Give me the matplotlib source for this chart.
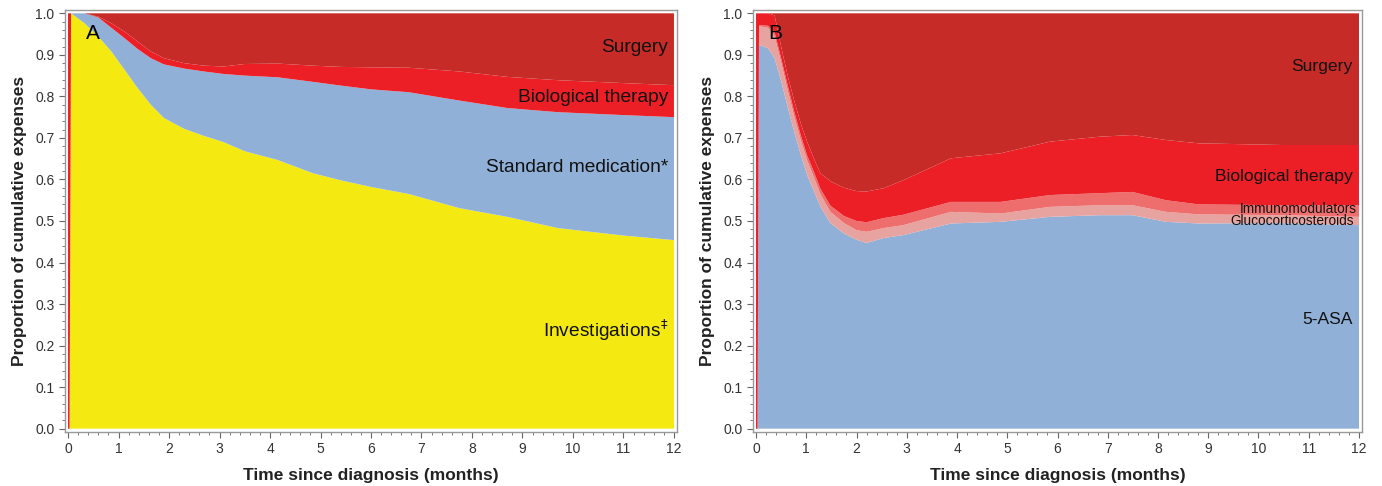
import matplotlib
matplotlib.use("Agg")
import matplotlib.pyplot as plt
import numpy as np
from matplotlib.ticker import AutoMinorLocator

plt.rcParams['font.family'] = ['Liberation Sans', 'DejaVu Sans']

# ---------------- Panel A: cumulative upper boundary of each layer ----------------
t_a = [0.0, 0.03, 0.06, 0.33, 0.6, 0.86, 1.12, 1.38, 1.64, 1.9, 2.3, 2.69, 3.08, 3.5, 4.15, 4.85, 5.4, 6.0, 6.75, 7.75, 8.7, 9.7, 11.0, 12.0]
top_investigations = [0.0, 0.0, 1.0, 0.976, 0.944, 0.908, 0.864, 0.82, 0.78, 0.748, 0.722, 0.705, 0.69, 0.668, 0.647, 0.615, 0.598, 0.582, 0.565, 0.531, 0.51, 0.483, 0.465, 0.454]
top_standard_med   = [0.0, 0.0, 1.0, 1.0, 0.99, 0.965, 0.94, 0.914, 0.892, 0.877, 0.867, 0.86, 0.854, 0.85, 0.846, 0.835, 0.826, 0.817, 0.81, 0.79, 0.772, 0.762, 0.755, 0.75]
top_biological_a   = [1.0, 1.0, 1.0, 1.0, 0.992, 0.976, 0.956, 0.932, 0.908, 0.892, 0.88, 0.874, 0.872, 0.878, 0.879, 0.874, 0.871, 0.87, 0.869, 0.86, 0.847, 0.839, 0.832, 0.827]
top_surgery_a      = [1.0] * len(t_a)

# ---------------- Panel B ----------------
t_b = [0.0, 0.03, 0.06, 0.24, 0.37, 0.5, 0.63, 0.76, 0.89, 1.02, 1.16, 1.28, 1.48, 1.75, 2.0, 2.2, 2.54, 2.93, 3.88, 4.87, 5.85, 6.84, 7.49, 8.16, 8.81, 10.45, 12.0]
top_5asa        = [0.0, 0.0, 0.924, 0.916, 0.892, 0.837, 0.775, 0.715, 0.66, 0.61, 0.57, 0.535, 0.495, 0.47, 0.455, 0.447, 0.459, 0.466, 0.494, 0.498, 0.51, 0.514, 0.514, 0.498, 0.494, 0.495, 0.49]
top_glucocort   = [0.0, 0.0, 0.969, 0.965, 0.945, 0.882, 0.815, 0.752, 0.695, 0.645, 0.603, 0.565, 0.522, 0.495, 0.478, 0.474, 0.483, 0.49, 0.522, 0.518, 0.534, 0.538, 0.538, 0.522, 0.516, 0.514, 0.51]
top_immunomod   = [0.0, 0.0, 0.972, 0.970, 0.955, 0.892, 0.827, 0.764, 0.707, 0.657, 0.616, 0.578, 0.537, 0.512, 0.50, 0.497, 0.507, 0.515, 0.546, 0.546, 0.5625, 0.567, 0.57, 0.55, 0.54, 0.538, 0.538]
top_biological_b = [1.0, 1.0, 1.0, 1.0, 0.995, 0.92, 0.85, 0.79, 0.735, 0.69, 0.648, 0.615, 0.596, 0.58, 0.572, 0.571, 0.579, 0.598, 0.651, 0.663, 0.691, 0.703, 0.707, 0.695, 0.687, 0.683, 0.683]
top_surgery_b   = [1.0] * len(t_b)

xticks = list(range(0, 13))
yticks = [round(0.1 * i, 1) for i in range(11)]


def shares(*tops):
    arr = np.vstack([np.zeros(len(tops[0]))] + [np.asarray(t, float) for t in tops])
    return np.diff(arr, axis=0)


YELLOW = '#F5E912'
BLUE = '#90B0D8'
BRED = '#EC1F26'
DRED = '#C62B28'
SALMON = '#EE6E6E'
LPINK = '#E6A39F'

fig = plt.figure(figsize=(13.82, 4.86), dpi=100)
axA = fig.add_axes([65/1382, 1 - 432/486, 612/1382, 422/486])
axB = fig.add_axes([753/1382, 1 - 432/486, 609/1382, 422/486])

axA.stackplot(t_a, shares(top_investigations, top_standard_med, top_biological_a, top_surgery_a),
              colors=[YELLOW, BLUE, BRED, DRED], linewidth=0)
axB.stackplot(t_b, shares(top_5asa, top_glucocort, top_immunomod, top_biological_b, top_surgery_b),
              colors=[BLUE, LPINK, SALMON, BRED, DRED], linewidth=0)

for ax in (axA, axB):
    ax.set_xlim(-0.06, 12.06)
    ax.set_ylim(-0.008, 1.008)
    ax.set_xticks(xticks)
    ax.set_yticks(yticks)
    ax.set_yticklabels([f"{v:.1f}" for v in yticks])
    ax.xaxis.set_minor_locator(AutoMinorLocator(5))
    ax.yaxis.set_minor_locator(AutoMinorLocator(5))
    ax.tick_params(which='both', direction='out', colors='#666666', labelcolor='#333333', labelsize=10)
    ax.tick_params(which='major', length=4)
    ax.tick_params(which='minor', length=2)
    for s in ax.spines.values():
        s.set_color('#999999')
        s.set_linewidth(1.0)
    ax.set_xlabel('Time since diagnosis (months)', fontsize=12.5, fontweight='bold', color='#222222', labelpad=8)
    ax.set_ylabel('Proportion of cumulative expenses', fontsize=12.5, fontweight='bold', color='#222222', labelpad=6)

# Panel A labels
axA.text(0.35, 0.952, 'A', fontsize=15, va='center', ha='left', color='black')
axA.text(11.88, 0.918, 'Surgery', fontsize=13.8, ha='right', va='center', color='#111111')
axA.text(11.88, 0.798, 'Biological therapy', fontsize=13.8, ha='right', va='center', color='#111111')
axA.text(11.88, 0.63, 'Standard medication*', fontsize=13.8, ha='right', va='center', color='#111111')
axA.text(11.88, 0.238, r'Investigations$^{\ddag}$', fontsize=13.8, ha='right', va='center', color='#111111')

# Panel B labels
axB.text(0.25, 0.952, 'B', fontsize=15, va='center', ha='left', color='black')
axB.text(11.87, 0.873, 'Surgery', fontsize=12.6, ha='right', va='center', color='#111111')
axB.text(11.87, 0.606, 'Biological therapy', fontsize=12.6, ha='right', va='center', color='#111111')
axB.text(11.95, 0.529, 'Immunomodulators', fontsize=9.8, ha='right', va='center', color='#111111')
axB.text(11.9, 0.501, 'Glucocorticosteroids', fontsize=9.8, ha='right', va='center', color='#111111')
axB.text(11.87, 0.262, '5-ASA', fontsize=12.6, ha='right', va='center', color='#111111')

fig.savefig('out.png', dpi=100)
